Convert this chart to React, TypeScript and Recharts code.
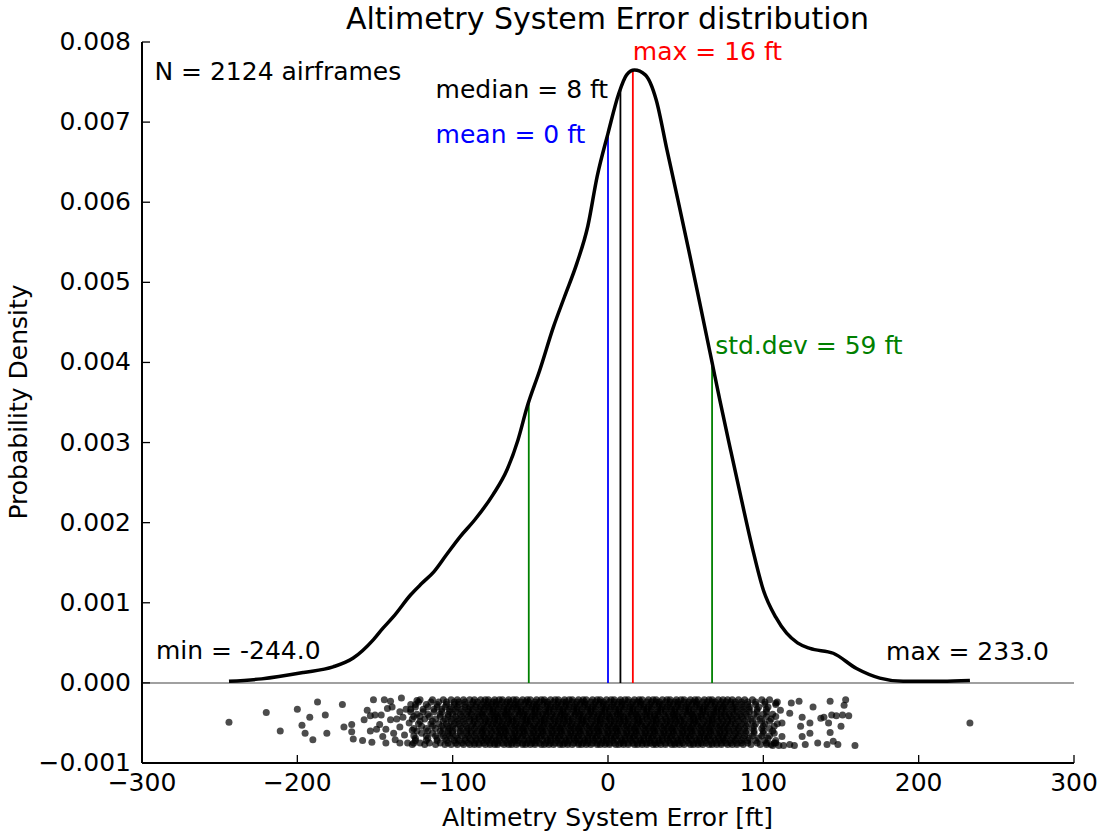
import { ComposedChart, Line, Scatter, XAxis, YAxis, ReferenceLine, ReferenceDot } from 'recharts';

const FONT = '"DejaVu Sans", sans-serif';
const W = 1097;
const H = 834;

// kernel density estimate of the altimetry system error (ft -> density)
const kdeX = [-244, -223, -196, -177, -164, -151, -145, -138, -127, -120, -112, -104, -95, -86, -74, -65, -58, -52, -44, -35, -28, -20, -13, -7, 0, 7, 12, 17, 24, 31, 38, 45, 52, 59, 67, 72, 79, 86, 93, 100, 108, 115, 122, 130, 145, 160, 175, 190, 215, 233];
const kdeY = [0.00002, 0.00005, 0.00013, 0.0002, 0.00031, 0.00054, 0.00068, 0.00083, 0.0011, 0.00124, 0.00139, 0.0016, 0.00183, 0.00203, 0.00235, 0.00266, 0.00303, 0.00345, 0.0039, 0.00445, 0.00482, 0.00524, 0.0057, 0.00632, 0.00686, 0.00736, 0.00759, 0.00765, 0.00759, 0.00728, 0.00665, 0.00603, 0.0054, 0.00475, 0.004, 0.00353, 0.0029, 0.00228, 0.00168, 0.00116, 0.00082, 0.00062, 0.0005, 0.00043, 0.00037, 0.00018, 0.00006, 0.00002, 0.00002, 0.00003];

const N_AIRFRAMES = 2124;
const MEAN_FT = 0;
const MEDIAN_FT = 8;
const MODE_FT = 16;
const STD_FT = 59;
const MIN_FT = -244.0;
const MAX_FT = 233.0;

const xTicks = [-300, -200, -100, 0, 100, 200, 300];
const yTicks = [-0.001, 0, 0.001, 0.002, 0.003, 0.004, 0.005, 0.006, 0.007, 0.008];

// strip plot of the individual airframes, jittered below zero
const row0 = [-121, -113, -106, -101, -97, -93, -89, -86, -82, -79, -77, -73, -70, -68, -64, -61, -59, -55, -52, -50, -46, -43, -41, -37, -34, -32, -28, -25, -23, -19, -16, -14, -10, -7, -5, -1, 2, 4, 8, 11, 13, 17, 20, 22, 26, 29, 31, 35, 38, 40, 44, 47, 49, 53, 56, 58, 62, 65, 67, 71, 74, 77, 80, 84, 88, 93, 99, 104];
const row1 = [-124, -117, -110, -104, -99, -96, -92, -88, -85, -81, -78, -75, -72, -70, -66, -63, -60, -58, -54, -51, -48, -46, -42, -39, -37, -33, -30, -27, -25, -21, -18, -15, -13, -9, -6, -3, -1, 3, 6, 9, 11, 15, 18, 21, 23, 27, 30, 33, 35, 39, 42, 45, 47, 51, 54, 57, 59, 63, 66, 69, 72, 75, 79, 82, 86, 90, 95, 101, 108];
const row2 = [-127, -119, -112, -107, -102, -98, -94, -90, -87, -83, -80, -76, -74, -71, -67, -65, -62, -58, -56, -53, -49, -47, -44, -40, -38, -35, -31, -29, -26, -22, -20, -17, -13, -11, -8, -4, -2, 1, 5, 7, 10, 14, 16, 19, 23, 25, 28, 32, 34, 37, 41, 43, 46, 50, 52, 55, 59, 61, 64, 68, 70, 73, 76, 80, 83, 87, 91, 96, 102];
const row3 = [-123, -116, -108, -103, -100, -95, -91, -88, -84, -81, -79, -75, -72, -69, -66, -64, -60, -57, -54, -52, -48, -45, -42, -40, -36, -33, -30, -28, -24, -21, -18, -16, -12, -9, -6, -4, 0, 3, 6, 8, 12, 15, 18, 20, 24, 27, 30, 32, 36, 39, 42, 44, 48, 51, 54, 56, 60, 63, 66, 68, 72, 75, 78, 81, 85, 89, 94, 100, 106];
const row4 = [-126, -118, -111, -105, -101, -97, -93, -89, -86, -83, -79, -76, -73, -71, -67, -64, -62, -59, -55, -53, -50, -47, -43, -41, -38, -35, -31, -29, -26, -23, -19, -17, -14, -11, -7, -5, -2, 1, 5, 7, 10, 13, 17, 19, 22, 25, 29, 31, 34, 37, 41, 43, 46, 49, 53, 55, 58, 61, 65, 67, 70, 73, 77, 80, 83, 87, 92, 98, 105];
const row5 = [-122, -114, -109, -104, -99, -96, -92, -87, -84, -80, -77, -74, -72, -68, -65, -63, -59, -56, -53, -51, -47, -44, -41, -39, -35, -32, -29, -27, -23, -20, -17, -15, -11, -8, -5, -3, 1, 4, 7, 9, 13, 16, 19, 21, 25, 28, 31, 33, 37, 40, 43, 45, 49, 52, 55, 57, 61, 64, 67, 69, 73, 76, 79, 82, 86, 90, 95, 101, 109];
const row6 = [-125, -117, -111, -106, -102, -98, -94, -90, -86, -82, -80, -76, -73, -70, -67, -65, -61, -58, -55, -53, -49, -46, -43, -41, -37, -34, -31, -29, -25, -22, -19, -17, -13, -10, -7, -5, -1, 2, 5, 7, 11, 14, 17, 19, 23, 26, 29, 31, 35, 38, 41, 43, 47, 50, 53, 55, 59, 62, 65, 67, 71, 74, 77, 81, 84, 88, 93, 99, 104];
const row7 = [-120, -113, -107, -103, -100, -95, -91, -88, -85, -81, -78, -75, -71, -69, -66, -62, -60, -57, -54, -50, -48, -45, -42, -38, -36, -33, -30, -26, -24, -21, -18, -14, -12, -9, -6, -2, 0, 3, 6, 10, 12, 15, 18, 22, 24, 27, 30, 34, 36, 39, 42, 46, 48, 51, 54, 58, 60, 63, 66, 70, 72, 75, 78, 82, 85, 89, 94, 100, 107];
const row8 = [-124, -116, -110, -105, -101, -97, -92, -89, -85, -82, -79, -77, -74, -70, -67, -64, -61, -59, -56, -52, -49, -46, -44, -40, -37, -34, -32, -28, -25, -22, -20, -16, -13, -10, -8, -4, -1, 2, 4, 8, 11, 14, 16, 20, 23, 26, 28, 32, 35, 38, 40, 44, 47, 50, 52, 56, 59, 62, 64, 68, 71, 74, 76, 80, 83, 87, 91, 97, 103];
const row9 = [-121, -115, -108, -103, -98, -94, -90, -86, -83, -80, -76, -73, -71, -68, -65, -62, -58, -55, -52, -49, -47, -44, -40, -37, -34, -31, -28, -26, -22, -19, -16, -13, -10, -7, -4, -1, 1, 4, 8, 10, 13, 16, 19, 22, 25, 27, 30, 33, 37, 40, 43, 45, 48, 52, 55, 58, 60, 63, 67, 70, 73, 76, 79, 83, 86, 90, 96, 102, 108];

// two jitter layers; each layer puts the rows at its own heights
const layerA = [
  { y: -0.00021, xs: row0 }, { y: -0.00027, xs: row1 }, { y: -0.00033, xs: row2 }, { y: -0.00039, xs: row3 },
  { y: -0.00045, xs: row4 }, { y: -0.00051, xs: row5 }, { y: -0.00057, xs: row6 }, { y: -0.00063, xs: row7 },
  { y: -0.00069, xs: row8 }, { y: -0.00075, xs: row9 },
];
const layerB = [
  { y: -0.00024, xs: row5 }, { y: -0.0003, xs: row8 }, { y: -0.00036, xs: row2 }, { y: -0.00042, xs: row9 },
  { y: -0.00048, xs: row0 }, { y: -0.00054, xs: row7 }, { y: -0.0006, xs: row3 }, { y: -0.00066, xs: row6 },
  { y: -0.00072, xs: row1 }, { y: -0.00077, xs: row4 },
];

// sparse airframes in the tails
const tailLeft: [number, number][] = [
  [-244, -0.00049], [-220, -0.00037], [-211, -0.0006], [-200, -0.00033], [-192, -0.00043], [-197, -0.00053],
  [-195, -0.00063], [-190, -0.00071], [-187, -0.00024], [-182, -0.0004], [-181, -0.00063], [-171, -0.00027],
  [-170, -0.00055], [-165, -0.00052], [-165, -0.00061], [-164, -0.0007], [-158, -0.00072], [-155, -0.00034],
  [-157, -0.00046], [-153, -0.00041], [-151, -0.00021], [-153, -0.0006], [-152, -0.00074], [-150, -0.0004],
  [-149, -0.00058], [-146, -0.0004], [-145, -0.00067], [-144, -0.00021], [-143, -0.00075], [-142, -0.00032],
  [-140, -0.00023], [-140, -0.00046], [-138, -0.00063], [-134, -0.00075], [-134, -0.00055], [-134, -0.00036],
  [-133, -0.00019], [-129, -0.00075], [-128, -0.0005], [-127, -0.00027], [-125, -0.00042], [-125, -0.00075],
  [-147, -0.00052], [-143, -0.00058], [-139, -0.0003], [-136, -0.00045], [-131, -0.00065], [-130, -0.00033],
  [-126, -0.00059], [-123, -0.00022], [-137, -0.00071], [-132, -0.00043],
];
const tailRight: [number, number][] = [
  [159, -0.00078], [153, -0.00021], [152, -0.00028], [151, -0.0004], [155, -0.00041], [150, -0.00054],
  [147, -0.00041], [143, -0.00023], [144, -0.0004], [142, -0.0005], [143, -0.00062], [145, -0.00073],
  [148, -0.00077], [141, -0.00077], [135, -0.00075], [139, -0.00043], [137, -0.00044], [132, -0.0003],
  [130, -0.0005], [130, -0.00063], [125, -0.00043], [124, -0.00054], [125, -0.00067], [127, -0.00077],
  [123, -0.00023], [118, -0.00025], [117, -0.00038], [120, -0.00078], [117, -0.00077], [112, -0.00067],
  [112, -0.0005], [113, -0.00078], [108, -0.00025], [107, -0.00075], [106, -0.00078], [102, -0.00077],
  [111, -0.00034], [110, -0.00078], [233, -0.0005],
];

const kdeData = kdeX.map((x, i) => ({ x, y: kdeY[i] }));
const stripData = [
  ...[...layerA, ...layerB].flatMap((row) => row.xs.map((x) => ({ x, y: row.y }))),
  ...tailLeft.map(([x, y]) => ({ x, y })),
  ...tailRight.map(([x, y]) => ({ x, y })),
];

// density read off the estimate, for the height of the marker lines
const densityAt = (x: number) => {
  for (let i = 1; i < kdeX.length; i++) {
    if (x <= kdeX[i]) {
      const t = (x - kdeX[i - 1]) / (kdeX[i] - kdeX[i - 1]);
      return kdeY[i - 1] + t * (kdeY[i] - kdeY[i - 1]);
    }
  }
  return kdeY[kdeY.length - 1];
};

const minus = (s: string) => s.replace('-', '\u2212');

const BottomTick = ({ x, y, payload }: any) => (
  <g>
    <line x1={x} x2={x} y1={y} y2={y - 8} stroke="#000" strokeWidth={1.3} />
    <text x={x} y={y + 28} textAnchor="middle" fontSize={25} fontFamily={FONT} fill="#000">
      {minus(String(payload.value))}
    </text>
  </g>
);

const TopTick = ({ x, y }: any) => <line x1={x} x2={x} y1={y} y2={y + 8} stroke="#000" strokeWidth={1.3} />;

const LeftTick = ({ x, y, payload }: any) => (
  <g>
    <line x1={x} x2={x + 8} y1={y} y2={y} stroke="#000" strokeWidth={1.3} />
    <text x={x - 11} y={y + 8} textAnchor="end" fontSize={25} fontFamily={FONT} fill="#000">
      {minus(payload.value.toFixed(3))}
    </text>
  </g>
);

const RightTick = ({ x, y }: any) => <line x1={x} x2={x - 8} y1={y} y2={y} stroke="#000" strokeWidth={1.3} />;

const notes = [
  { x: -292, y: 0.00753, text: `N = ${N_AIRFRAMES} airframes`, color: '#000' },
  { x: -111, y: 0.0073, text: `median = ${MEDIAN_FT} ft`, color: '#000' },
  { x: -111, y: 0.00674, text: `mean = ${MEAN_FT} ft`, color: '#0000ff' },
  { x: MODE_FT, y: 0.00777, text: `max = ${MODE_FT} ft`, color: '#ff0000' },
  { x: 69, y: 0.0041, text: `std.dev = ${STD_FT} ft`, color: '#008000' },
  { x: -291, y: 0.0003, text: `min = ${MIN_FT.toFixed(1)}`, color: '#000' },
  { x: 179, y: 0.00029, text: `max = ${MAX_FT.toFixed(1)}`, color: '#000' },
];

const markers = [
  { x: MEAN_FT, color: '#0000ff' },
  { x: MEDIAN_FT, color: '#000000' },
  { x: MODE_FT, color: '#ff0000' },
  { x: MEDIAN_FT - STD_FT, color: '#008000' },
  { x: MEDIAN_FT + STD_FT, color: '#008000' },
];

const axisLine = { stroke: '#000', strokeWidth: 2 };

export default function App() {
  return (
    <div style={{ position: 'absolute', left: 0, top: 0, width: W, height: H, background: '#fff' }}>
      <ComposedChart width={W} height={H} margin={{ top: 42, right: 23, bottom: 21, left: 0 }}>
        <XAxis
          type="number"
          dataKey="x"
          domain={[-300, 300]}
          ticks={xTicks}
          interval={0}
          height={50}
          tickSize={0}
          tickMargin={0}
          tickLine={false}
          axisLine={axisLine}
          tick={<BottomTick />}
          allowDataOverflow
        />
        <XAxis
          xAxisId="top"
          orientation="top"
          type="number"
          domain={[-300, 300]}
          ticks={xTicks}
          interval={0}
          height={0}
          tickSize={0}
          tickMargin={0}
          tickLine={false}
          axisLine={axisLine}
          tick={<TopTick />}
          allowDataOverflow
        />
        <YAxis
          type="number"
          domain={[-0.001, 0.008]}
          ticks={yTicks}
          interval={0}
          width={142}
          tickSize={0}
          tickMargin={0}
          tickLine={false}
          axisLine={axisLine}
          tick={<LeftTick />}
          allowDataOverflow
        />
        <YAxis
          yAxisId="right"
          orientation="right"
          type="number"
          domain={[-0.001, 0.008]}
          ticks={yTicks}
          interval={0}
          width={0}
          tickSize={0}
          tickMargin={0}
          tickLine={false}
          axisLine={axisLine}
          tick={<RightTick />}
          allowDataOverflow
        />
        <ReferenceLine y={0} stroke="#808080" strokeWidth={1.5} />
        {markers.map((m) => (
          <ReferenceLine
            key={m.x}
            segment={[{ x: m.x, y: 0 }, { x: m.x, y: densityAt(m.x) }]}
            stroke={m.color}
            strokeWidth={1.8}
          />
        ))}
        <Scatter
          data={stripData}
          dataKey="y"
          isAnimationActive={false}
          shape={(p: any) => <circle cx={p.cx} cy={p.cy} r={3.5} fill="#000" fillOpacity={0.7} />}
        />
        <Line
          data={kdeData}
          dataKey="y"
          type="monotone"
          stroke="#000"
          strokeWidth={3.5}
          dot={false}
          activeDot={false}
          isAnimationActive={false}
        />
        {notes.map((n) => (
          <ReferenceDot
            key={n.text}
            x={n.x}
            y={n.y}
            r={0}
            fill="none"
            stroke="none"
            label={{
              content: ({ viewBox }: any) => (
                <text x={viewBox.x} y={viewBox.y} fill={n.color} fontSize={25} fontFamily={FONT}>
                  {n.text}
                </text>
              ),
            }}
          />
        ))}
      </ComposedChart>
      <svg width={W} height={H} style={{ position: 'absolute', left: 0, top: 0, pointerEvents: 'none' }}>
        <text x={607.5} y={29} textAnchor="middle" fontSize={30} fontFamily={FONT} fill="#000">
          Altimetry System Error distribution
        </text>
        <text x={607.5} y={826} textAnchor="middle" fontSize={25} fontFamily={FONT} fill="#000">
          Altimetry System Error [ft]
        </text>
        <text transform="translate(27,402) rotate(-90)" textAnchor="middle" fontSize={25} fontFamily={FONT} fill="#000">
          Probability Density
        </text>
      </svg>
    </div>
  );
}
